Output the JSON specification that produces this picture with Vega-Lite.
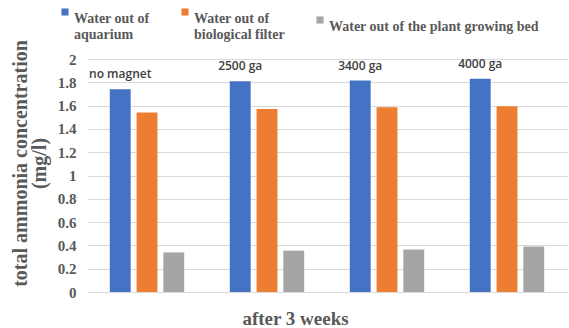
{
  "$schema": "https://vega.github.io/schema/vega-lite/v6.json",
  "width": 480,
  "height": 233,
  "autosize": {"type": "none"},
  "padding": {"left": 87, "top": 59, "right": 2, "bottom": 36},
  "background": "white",
  "config": {"view": {"stroke": null}, "font": "Liberation Serif"},
  "data": {"values": [
    {"group": "no magnet", "series": "Water out of aquarium", "value": 1.74},
    {"group": "no magnet", "series": "Water out of biological filter", "value": 1.54},
    {"group": "no magnet", "series": "Water out of  the plant growing bed", "value": 0.34},
    {"group": "2500 ga", "series": "Water out of aquarium", "value": 1.81},
    {"group": "2500 ga", "series": "Water out of biological filter", "value": 1.57},
    {"group": "2500 ga", "series": "Water out of  the plant growing bed", "value": 0.355},
    {"group": "3400 ga", "series": "Water out of aquarium", "value": 1.815},
    {"group": "3400 ga", "series": "Water out of biological filter", "value": 1.585},
    {"group": "3400 ga", "series": "Water out of  the plant growing bed", "value": 0.365},
    {"group": "4000 ga", "series": "Water out of aquarium", "value": 1.83},
    {"group": "4000 ga", "series": "Water out of biological filter", "value": 1.595},
    {"group": "4000 ga", "series": "Water out of  the plant growing bed", "value": 0.39}
  ]},
  "encoding": {
    "x": {
      "field": "group", "type": "nominal", "sort": null,
      "scale": {"paddingInner": 0.38, "paddingOuter": 0.19},
      "axis": {
        "labels": false, "ticks": false, "domain": false,
        "title": "after 3 weeks", "titleFont": "Liberation Serif", "titleFontSize": 19,
        "titleFontWeight": "bold", "titleColor": "#595959",
        "titleX": 208, "titleY": 26, "titleBaseline": "middle", "titleAnchor": null
      }
    },
    "xOffset": {"field": "series", "type": "nominal", "sort": null, "scale": {"paddingInner": 0.22}},
    "y": {
      "field": "value", "type": "quantitative",
      "scale": {"domain": [0, 2], "nice": false},
      "axis": {
        "values": [0, 0.2, 0.4, 0.6, 0.8, 1, 1.2, 1.4, 1.6, 1.8, 2],
        "tickCount": 20,
        "labelExpr": "datum.value == 0 ? '0' : datum.value == 1 ? '1' : datum.value == 2 ? '2' : format(datum.value, '.1f')",
        "labelOverlap": false, "labelFlush": false,
        "domain": false, "ticks": false,
        "gridColor": "#d9d9d9", "gridWidth": 1,
        "labelFont": "Liberation Serif", "labelFontSize": 15, "labelFontWeight": "bold",
        "labelColor": "#595959", "labelPadding": 11,
        "title": ["total ammonia concentration", "(mg/l)"],
        "titleFont": "Liberation Serif", "titleFontSize": 20, "titleFontWeight": "bold",
        "titleLineHeight": 19,
        "titleColor": "#595959", "titleY": 104, "titlePadding": 8
      }
    }
  },
  "layer": [
    {
      "mark": {"type": "bar"},
      "encoding": {
        "color": {
          "field": "series", "type": "nominal", "sort": null,
          "scale": {"range": ["#4472C4", "#ED7D31", "#A5A5A5"]},
          "legend": {
            "orient": "none", "direction": "horizontal", "legendX": -29, "legendY": -54,
            "title": null, "symbolType": "square", "symbolSize": 50, "symbolStrokeWidth": 0,
            "labelFont": "Liberation Serif", "labelFontSize": 14, "labelFontWeight": "bold",
            "labelColor": "#595959", "columnPadding": 28, "labelOffset": 2,
            "labelLimit": 300, "labelBaseline": "top", "labelLineHeight": 15,
            "labelExpr": "datum.label == 'Water out of aquarium' ? ['Water out of', 'aquarium'] : datum.label == 'Water out of biological filter' ? ['Water out of', 'biological filter'] : datum.label"
          }
        }
      }
    },
    {
      "transform": [{"filter": "datum.series == 'Water out of aquarium'"}],
      "mark": {"type": "text", "font": "Open Sans", "fontSize": 12, "fontWeight": 600, "color": "#404040", "dy": -15, "baseline": "middle"},
      "encoding": {
        "text": {"field": "group"}
      }
    }
  ]
}
